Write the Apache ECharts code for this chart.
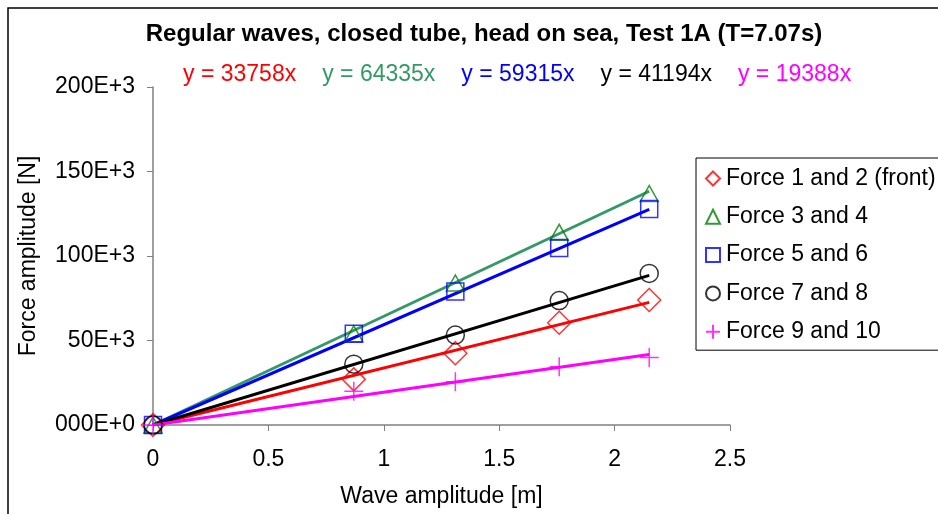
<!DOCTYPE html>
<html>
<head>
<meta charset="utf-8">
<script src="https://cdn.jsdelivr.net/npm/echarts@6/dist/echarts.min.js"></script>
<style>
  html, body { margin: 0; padding: 0; background: #fff; }
  #chart { width: 938px; height: 514px; }
</style>
</head>
<body>
<div id="chart"></div>
<script>
// Wave amplitude [m] for each regular-wave run
const waveAmplitude = [0, 0.87, 1.31, 1.76, 2.15];

// Measured force amplitudes [N]
const force12 = [0, 27000, 42500, 60500, 74000];
const force34 = [0, 54000, 84000, 114000, 137000];
const force56 = [0, 54000, 79000, 104700, 127800];
const force78 = [0, 36000, 53200, 73600, 89700];
const force910 = [0, 20000, 25600, 34500, 40000];

// Fitted linear trend slopes (y = k x)
const slopes = [33758, 64335, 59315, 41194, 19388];
const seriesNames = ['Force 1 and 2 (front)', 'Force 3 and 4', 'Force 5 and 6', 'Force 7 and 8', 'Force 9 and 10'];
const trendEnd = 2.15;

const yTickLabels = { 0: '000E+0', 50000: '50E+3', 100000: '100E+3', 150000: '150E+3', 200000: '200E+3' };

const FONT = 'Liberation Sans, Arial, sans-serif';
const FS = 23;
const markerColors = ['#ff0000', '#008000', '#0000ff', '#000000', '#ff00ff'];
const lineColors = ['#ff0000', '#339966', '#0000ff', '#000000', '#ff00ff'];
const symbols = ['diamond', 'triangle', 'rect', 'circle', 'path://M5,0V10M0,5H10'];
const symbolSizes = [[23, 23], [18, 16], [17, 17], [18, 18], [19, 19]];
const values = [force12, force34, force56, force78, force910];

const chart = echarts.init(document.getElementById('chart'), null, { renderer: 'canvas' });

const series = [];
// trend lines first so markers sit on top
slopes.forEach((k, i) => {
  series.push({
    type: 'line',
    name: 'trend' + i,
    data: [[0, 0], [trendEnd, k * trendEnd]],
    showSymbol: false,
    symbol: 'none',
    silent: true,
    lineStyle: { color: lineColors[i], width: 3 },
    z: 2
  });
});
values.forEach((arr, i) => {
  series.push({
    type: 'scatter',
    name: seriesNames[i],
    data: arr.map((v, j) => [waveAmplitude[j], v]),
    symbol: symbols[i],
    symbolSize: symbolSizes[i],
    itemStyle: { color: 'rgba(0,0,0,0)', borderColor: markerColors[i], borderWidth: 1.5 },
    z: 3
  });
});

const eqRich = {};
const eqParts = [];
slopes.forEach((k, i) => {
  eqRich['e' + i] = { color: lineColors[i], fontSize: FS, fontWeight: 'normal', fontFamily: FONT, padding: [0, 13, 0, 13] };
  eqParts.push('{e' + i + '|y = ' + k + 'x}');
});

chart.setOption({
  animation: false,
  backgroundColor: '#fff',
  textStyle: { fontFamily: FONT },
  title: [
    {
      text: 'Regular waves, closed tube, head on sea, Test 1A (T=7.07s)',
      left: 479, top: 17, textAlign: 'center',
      textStyle: { fontSize: 24, fontWeight: 'bold', color: '#000', fontFamily: FONT }
    },
    {
      text: eqParts.join(''),
      left: 165, top: 58,
      textStyle: { fontWeight: 'normal', rich: eqRich }
    }
  ],
  graphic: [
    {
      type: 'rect',
      shape: { x: 8, y: 8, width: 960, height: 540 },
      style: { fill: 'none', stroke: '#000', lineWidth: 1.5 },
      silent: true
    }
  ],
  legend: {
    orient: 'vertical',
    left: 696, top: 158,
    width: 300,
    padding: [9, 30, 7, 9],
    itemGap: 15.3,
    itemWidth: 14, itemHeight: 14,
    borderColor: '#000', borderWidth: 1,
    backgroundColor: '#fff',
    data: seriesNames,
    textStyle: { fontSize: FS, color: '#000', fontFamily: FONT, padding: [0, 0, 0, 1] }
  },
  grid: { left: 153, right: 208, top: 87, bottom: 89, containLabel: false },
  xAxis: {
    type: 'value', min: 0, max: 2.5, interval: 0.5,
    name: 'Wave amplitude [m]', nameLocation: 'middle', nameGap: 60,
    nameTextStyle: { fontSize: FS, color: '#000', fontFamily: FONT },
    axisLine: { show: true, lineStyle: { color: '#808080', width: 1.5 } },
    axisTick: { show: true, inside: false, length: 6, lineStyle: { color: '#808080' } },
    axisLabel: { fontSize: FS, color: '#000', margin: 23, fontFamily: FONT },
    splitLine: { show: false }
  },
  yAxis: {
    type: 'value', min: 0, max: 200000, interval: 50000,
    name: 'Force amplitude [N]', nameLocation: 'middle', nameGap: 113, nameRotate: 90,
    nameTextStyle: { fontSize: FS, color: '#000', fontFamily: FONT },
    axisLine: { show: true, lineStyle: { color: '#808080', width: 1.5 } },
    axisTick: { show: true, inside: false, length: 6, lineStyle: { color: '#808080' } },
    axisLabel: { fontSize: FS, color: '#000', margin: 18, fontFamily: FONT, formatter: v => yTickLabels[v] },
    splitLine: { show: false }
  },
  series: series
});
</script>
</body>
</html>
